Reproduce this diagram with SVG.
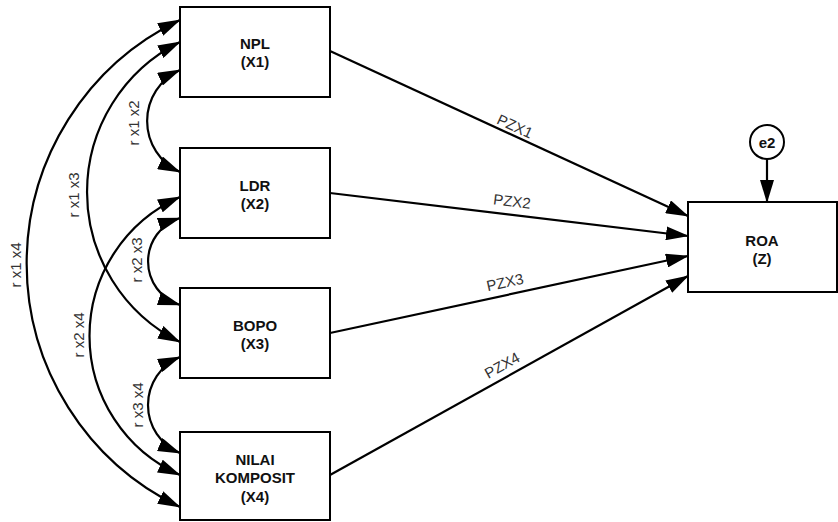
<svg xmlns="http://www.w3.org/2000/svg" width="838" height="522" viewBox="0 0 838 522">
<style>
.box{fill:#fff;stroke:#000;stroke-width:2}
.bl{font-family:"Liberation Sans",Arial,sans-serif;font-size:15px;font-weight:bold;fill:#111;text-anchor:middle;dominant-baseline:central}
.lb{font-family:"Liberation Sans",Arial,sans-serif;font-size:15px;fill:#333;text-anchor:middle;dominant-baseline:central}
.c{fill:none;stroke:#000;stroke-width:2.2}
.a{marker-end:url(#ah)}
.d{marker-start:url(#ah);marker-end:url(#ah)}
</style>
<defs>
<marker id="ah" markerUnits="userSpaceOnUse" viewBox="0 0 23 14" refX="22" refY="7" markerWidth="23" markerHeight="14" orient="auto-start-reverse">
<path d="M0,0 L23,7 L0,14 z" fill="#000"/>
</marker>
</defs>
<rect width="838" height="522" fill="#fff"/>
<g id="connectors">
<path class="c a" d="M330,51 L688,216"/>
<path class="c a" d="M330,193 L688,236"/>
<path class="c a" d="M330,333 L688,256"/>
<path class="c a" d="M330,475 L688,276"/>
<path class="c a" d="M767,159 L767,202"/>
<path class="c d" d="M180,70 A56,56 0 0 0 180,172"/>
<path class="c d" d="M180,42 A167.5,167.5 0 0 0 180,342"/>
<path class="c d" d="M180,20 A270,270 0 0 0 180,507"/>
<path class="c d" d="M180,218 A45.6,45.6 0 0 0 180,305"/>
<path class="c d" d="M180,197 A152,152 0 0 0 180,475"/>
<path class="c d" d="M180,357 A52,52 0 0 0 180,453"/>
<text class="lb" transform="translate(515,126) rotate(24.7)">PZX1</text>
<text class="lb" transform="translate(512,201) rotate(6.8)">PZX2</text>
<text class="lb" transform="translate(505,282) rotate(-12.1)">PZX3</text>
<text class="lb" transform="translate(502,365) rotate(-29)">PZX4</text>
<text class="lb" transform="translate(133,123) rotate(-90)">r x1 x2</text>
<text class="lb" transform="translate(73,195) rotate(-90)">r x1 x3</text>
<text class="lb" transform="translate(15,265) rotate(-90)">r x1 x4</text>
<text class="lb" transform="translate(136,260) rotate(-90)">r x2 x3</text>
<text class="lb" transform="translate(78,335) rotate(-90)">r x2 x4</text>
<text class="lb" transform="translate(137,405) rotate(-90)">r x3 x4</text>
</g>
<g id="npl">
<rect class="box" x="180" y="7" width="150" height="90"/>
<text class="bl" x="255" y="43">NPL</text>
<text class="bl" x="255" y="61">(X1)</text>
</g>
<g id="ldr">
<rect class="box" x="180" y="148" width="150" height="90"/>
<text class="bl" x="255" y="185">LDR</text>
<text class="bl" x="255" y="203">(X2)</text>
</g>
<g id="bopo">
<rect class="box" x="180" y="288" width="150" height="90"/>
<text class="bl" x="255" y="325">BOPO</text>
<text class="bl" x="255" y="343">(X3)</text>
</g>
<g id="nilai">
<rect class="box" x="180" y="432" width="150" height="88"/>
<text class="bl" x="255" y="459">NILAI</text>
<text class="bl" x="255" y="477">KOMPOSIT</text>
<text class="bl" x="255" y="496">(X4)</text>
</g>
<g id="roa">
<rect class="box" x="688" y="202" width="149" height="90"/>
<text class="bl" x="762" y="240">ROA</text>
<text class="bl" x="762" y="258">(Z)</text>
</g>
<g id="e2">
<circle cx="767" cy="142" r="17" fill="#fff" stroke="#000" stroke-width="2"/>
<text class="bl" x="767" y="142">e2</text>
</g>
</svg>
